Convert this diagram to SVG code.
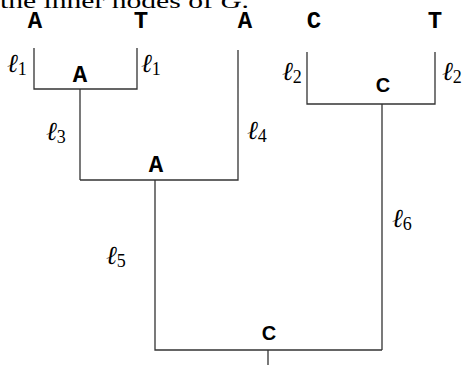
<svg xmlns="http://www.w3.org/2000/svg" width="467" height="365" viewBox="0 0 467 365">
<style>
.e{fill:none;stroke:#333;stroke-width:1.3}
.leaf{font-family:"Liberation Mono",monospace;font-weight:bold;font-size:24px;fill:#000;text-anchor:middle}
.inn{font-family:"Liberation Sans",sans-serif;font-weight:bold;font-size:20px;fill:#000;text-anchor:middle}
.l{font-family:"DejaVu Serif","Liberation Serif",serif;font-style:italic;font-size:26px;fill:#000}
.s{font-family:"Liberation Serif",serif;font-style:normal;font-size:18px}
.cap{font-family:"Liberation Serif",serif;font-size:21px;fill:#000}
</style>
<rect width="467" height="365" fill="#fff"/>
<text class="cap" x="0" y="8" textLength="249" lengthAdjust="spacingAndGlyphs">the inner nodes of <tspan font-style="italic">G</tspan>.</text>
<g id="connectors">
<path class="e" d="M34,48V89H137V48M80,89V180M238,50V180H80M155,180V350H382M307,52V104H435V52M382,104V350M268,350V365"/>
</g>
<g id="leaf1"><text class="leaf" x="35" y="28">A</text></g>
<g id="leaf2"><text class="leaf" x="141" y="28">T</text></g>
<g id="leaf3"><text class="leaf" x="245" y="28">A</text></g>
<g id="leaf4"><text class="leaf" x="314" y="28">C</text></g>
<g id="leaf5"><text class="leaf" x="435" y="28">T</text></g>
<g id="n1"><text class="leaf" x="80" y="82">A</text></g>
<g id="n2"><text class="inn" x="383" y="92">C</text></g>
<g id="n3"><text class="leaf" x="156" y="172">A</text></g>
<g id="n4"><text class="inn" x="269" y="340">C</text></g>
<g id="labels">
<text class="l" x="7" y="72">ℓ<tspan class="s" dy="3">1</tspan></text>
<text class="l" x="141" y="72">ℓ<tspan class="s" dy="3">1</tspan></text>
<text class="l" x="282" y="80">ℓ<tspan class="s" dy="3">2</tspan></text>
<text class="l" x="442" y="80">ℓ<tspan class="s" dy="3">2</tspan></text>
<text class="l" x="46" y="140">ℓ<tspan class="s" dy="3">3</tspan></text>
<text class="l" x="247" y="139">ℓ<tspan class="s" dy="3">4</tspan></text>
<text class="l" x="106" y="264">ℓ<tspan class="s" dy="3">5</tspan></text>
<text class="l" x="392" y="227">ℓ<tspan class="s" dy="3">6</tspan></text>
</g>
</svg>
